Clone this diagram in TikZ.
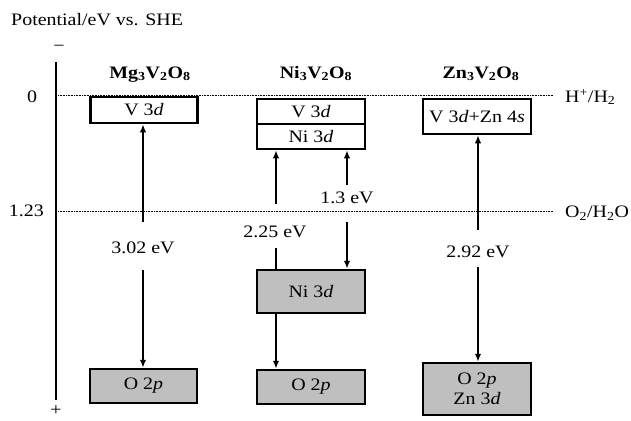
\documentclass[tikz,border=0pt]{standalone}
\usepackage{fontspec}
\setmainfont[FakeStretch=1.14]{Liberation Serif}
\usetikzlibrary{arrows.meta}
\begin{document}
\begin{tikzpicture}[x=1pt,y=-1pt,
  every node/.style={font=\fontsize{17.5}{20}\selectfont, inner sep=0pt},
  lvl/.style={draw, line width=2.5pt, minimum width=107pt, inner sep=0pt},
  filled/.style={lvl, fill=gray!50},
  arr/.style={line width=2.2pt, -{Latex[length=8pt,width=6.5pt]}},
  ln/.style={line width=2.2pt},
  dotline/.style={line width=0.9pt, dash pattern=on 0.8pt off 0.8pt},
  hdr/.style={anchor=base, font=\fontsize{17.5}{20}\selectfont\bfseries}]
\useasboundingbox (0,0) rectangle (631,420);

% title and axis
\node[anchor=base west] (title) at (11,26) {Potential/eV vs. SHE};
\coordinate (axT) at (56,62);
\coordinate (axB) at (56,400);
\draw[line width=2.8pt] (axT) -- (axB);
\node (minus) at (59,48) {−};
\node (plus) at (56,411) {+};
\node (zero) at (32,97) {0};
\node[anchor=east] (oneTwo) at (44,211) {1.23};

% reference levels
\coordinate (h0) at (58,95);
\coordinate (h1) at (553,95);
\coordinate (o0) at (58,211);
\coordinate (o1) at (553,211);
\draw[dotline] (h0) -- (h1);
\draw[dotline] (o0) -- (o1);
\node[anchor=west] (hlab) at (565,97) {H\textsuperscript{+}/H\textsubscript{2}};
\node[anchor=west] (olab) at (565,213) {O\textsubscript{2}/H\textsubscript{2}O};

% headers
\node[hdr] (mgH) at (150,78) {Mg\textsubscript{3}V\textsubscript{2}O\textsubscript{8}};
\node[hdr] (niH) at (316,78) {Ni\textsubscript{3}V\textsubscript{2}O\textsubscript{8}};
\node[hdr] (znH) at (481,78) {Zn\textsubscript{3}V\textsubscript{2}O\textsubscript{8}};

% Mg3V2O8
\node[lvl, minimum height=26pt] (mgV) at (144,110) {V 3\textit{d}};
\node[filled, minimum height=34pt] (mgO) at (143.5,386) {O 2\textit{p}};
\node (mgE) at (143,248) {3.02 eV};
\coordinate (mgA) at (143,222);
\coordinate (mgB) at (143,270);
\draw[arr] (mgA) -- (mgA |- mgV.south);
\draw[arr] (mgB) -- (mgB |- mgO.north);

% Ni3V2O8
\node[lvl, minimum width=108pt, minimum height=25pt] (niV) at (311,111.5) {V 3\textit{d}};
\node[lvl, minimum width=108pt, minimum height=25pt] (niN) at (311,136.5) {Ni 3\textit{d}};
\node[filled, minimum width=108pt, minimum height=43pt] (niD) at (311,291.5) {Ni 3\textit{d}};
\node[filled, minimum width=108pt, minimum height=34pt] (niO) at (311,387) {O 2\textit{p}};
\node (niE1) at (275,232) {2.25 eV};
\node (niE2) at (347,198) {1.3 eV};
\coordinate (niA) at (276,204);
\coordinate (niB) at (276,248);
\coordinate (niR1) at (347,185);
\coordinate (niR2) at (347,222);
\draw[arr] (niA) -- (niA |- niN.south);
\draw[ln] (niB) -- (niB |- niD.north);
\draw[arr] (niB |- niD.south) -- (niB |- niO.north);
\draw[arr] (niR1) -- (niR1 |- niN.south);
\draw[arr] (niR2) -- (niR2 |- niD.north);

% Zn3V2O8
\node[lvl, minimum width=108pt, minimum height=35pt] (znV) at (477,116.5) {V 3\textit{d}+Zn 4\textit{s}};
\node[filled, minimum width=108pt, minimum height=52pt, align=center] (znO) at (477,389) {O 2\textit{p}\\Zn 3\textit{d}};
\node (znE) at (478,252) {2.92 eV};
\coordinate (znA) at (478,230);
\coordinate (znB) at (478,267);
\draw[arr] (znA) -- (znA |- znV.south);
\draw[arr] (znB) -- (znB |- znO.north);
\end{tikzpicture}
\end{document}
